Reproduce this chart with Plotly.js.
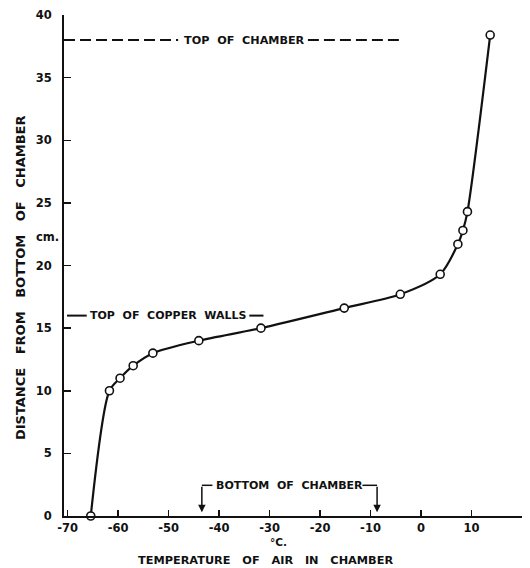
<!DOCTYPE html>
<html>
<head>
<meta charset="utf-8">
<script src="https://cdn.plot.ly/plotly-3.0.1.min.js"></script>
<style>html,body{margin:0;padding:0;background:#fff;}#chart{width:530px;height:568px;}</style>
</head>
<body>
<div id="chart"></div>
<script>
// Temperature of air in chamber (°C) vs distance from bottom of chamber (cm)
const temperature = [-65.4, -61.7, -59.6, -57.0, -53.1, -44.0, -31.7, -15.2, -4.1, 3.8, 7.3, 8.3, 9.2, 13.7];
const distance    = [0, 10.0, 11.0, 12.0, 13.0, 14.0, 15.0, 16.6, 17.7, 19.3, 21.7, 22.8, 24.3, 38.4];
const xTicks = [-70, -60, -50, -40, -30, -20, -10, 0, 10, 20];
const yTicks = [0, 5, 10, 15, 20, 25, 30, 35, 40];
const topOfChamber = 38;
const topOfCopperWalls = 16;
const bottomOfChamberRange = [-43.4, -8.7];

const ink = '#111';
const F = 'DejaVu Sans, Liberation Sans, sans-serif';
const sp = (s, n) => s.replace(/ /g, '\u00a0'.repeat(n || 2));

const trace = {
  x: temperature, y: distance, mode: 'lines+markers', type: 'scatter',
  line: {color: ink, width: 2.2, shape: 'spline', smoothing: 0.8},
  marker: {symbol: 'circle', size: 8, color: '#fff', line: {color: ink, width: 1.6}},
  cliponaxis: false, hoverinfo: 'skip'
};

const shapes = [
  {type: 'line', xref: 'x', yref: 'y', x0: -70.7, x1: -48.1, y0: topOfChamber, y1: topOfChamber, line: {color: ink, width: 2, dash: '11px,5px'}},
  {type: 'line', xref: 'x', yref: 'y', x0: -22.4, x1: -3.6, y0: topOfChamber, y1: topOfChamber, line: {color: ink, width: 2, dash: '11px,5px'}},
  {type: 'line', xref: 'x', yref: 'y', x0: -70.1, x1: -66.2, y0: topOfCopperWalls, y1: topOfCopperWalls, line: {color: ink, width: 2}},
  {type: 'line', xref: 'x', yref: 'y', x0: -34.0, x1: -31.2, y0: topOfCopperWalls, y1: topOfCopperWalls, line: {color: ink, width: 2}},
  {type: 'line', xref: 'x', yref: 'y', x0: bottomOfChamberRange[0], x1: bottomOfChamberRange[0] + 2.1, y0: 2.45, y1: 2.45, line: {color: ink, width: 1.5}},
  {type: 'line', xref: 'x', yref: 'y', x0: bottomOfChamberRange[1] - 2.9, x1: bottomOfChamberRange[1], y0: 2.45, y1: 2.45, line: {color: ink, width: 1.5}}
];

const C = {xanchor: 'center', yanchor: 'middle', showarrow: false};
const annotations = [
  Object.assign({xref: 'x', yref: 'y', x: -35.0, y: topOfChamber, text: sp('TOP OF CHAMBER', 2), font: {family: F, size: 11.2, color: ink, weight: 'bold'}}, C),
  Object.assign({xref: 'x', yref: 'y', x: -50.1, y: topOfCopperWalls, text: sp('TOP OF COPPER WALLS', 2), font: {family: F, size: 11, color: ink, weight: 'bold'}}, C),
  Object.assign({xref: 'x', yref: 'y', x: -26.1, y: 2.45, text: sp('BOTTOM OF CHAMBER', 2), font: {family: F, size: 11, color: ink, weight: 'bold'}}, C),
  {xref: 'x', yref: 'y', axref: 'x', ayref: 'y', x: bottomOfChamberRange[0], y: 0.3, ax: bottomOfChamberRange[0], ay: 2.45, text: '', showarrow: true, arrowhead: 2, arrowsize: 1, arrowwidth: 1.5, arrowcolor: ink, standoff: 0, startstandoff: 0},
  {xref: 'x', yref: 'y', axref: 'x', ayref: 'y', x: bottomOfChamberRange[1], y: 0.3, ax: bottomOfChamberRange[1], ay: 2.45, text: '', showarrow: true, arrowhead: 2, arrowsize: 1, arrowwidth: 1.5, arrowcolor: ink, standoff: 0, startstandoff: 0},
  Object.assign({xref: 'paper', yref: 'paper', x: -0.037, y: 0.557, text: 'cm.', font: {family: F, size: 11.5, color: ink, weight: 'bold'}}, C),
  Object.assign({xref: 'paper', yref: 'paper', x: 0.468, y: -0.052, text: '°C.', font: {family: F, size: 10.5, color: ink, weight: 'bold'}}, C),
  Object.assign({xref: 'paper', yref: 'paper', x: 0.44, y: -0.088, text: sp('TEMPERATURE OF AIR IN CHAMBER', 3), font: {family: F, size: 11.3, color: ink, weight: 'bold'}}, C),
  Object.assign({xref: 'paper', yref: 'paper', x: -0.096, y: 0.475, textangle: -90, text: sp('DISTANCE FROM BOTTOM OF CHAMBER', 3), font: {family: F, size: 13, color: ink, weight: 'bold'}}, C)
];

const layout = {
  width: 530, height: 568,
  margin: {l: 64, r: 8, t: 15, b: 52},
  paper_bgcolor: '#fff', plot_bgcolor: '#fff',
  showlegend: false,
  font: {family: F, color: ink},
  xaxis: {
    range: [-70.7, 20], tickmode: 'array', tickvals: xTicks, ticktext: xTicks.map(v => v < 0 ? '-' + Math.abs(v) : String(v)),
    ticks: 'inside', ticklen: 6, tickwidth: 1.5, tickcolor: ink,
    showline: true, linecolor: ink, linewidth: 2, showgrid: false, zeroline: false,
    tickfont: {family: F, size: 11.5, color: ink, weight: 'bold'}, ticklabelstandoff: 0
  },
  yaxis: {
    range: [0, 40], tickmode: 'array', tickvals: yTicks, ticktext: yTicks.map(String),
    ticks: 'inside', ticklen: 7, tickwidth: 1.5, tickcolor: ink,
    showline: true, linecolor: ink, linewidth: 2, showgrid: false, zeroline: false,
    tickfont: {family: F, size: 11.5, color: ink, weight: 'bold'}, ticklabelstandoff: 8
  },
  shapes: shapes,
  annotations: annotations
};

Plotly.newPlot('chart', [trace], layout, {staticPlot: true, displayModeBar: false});
</script>
</body>
</html>
